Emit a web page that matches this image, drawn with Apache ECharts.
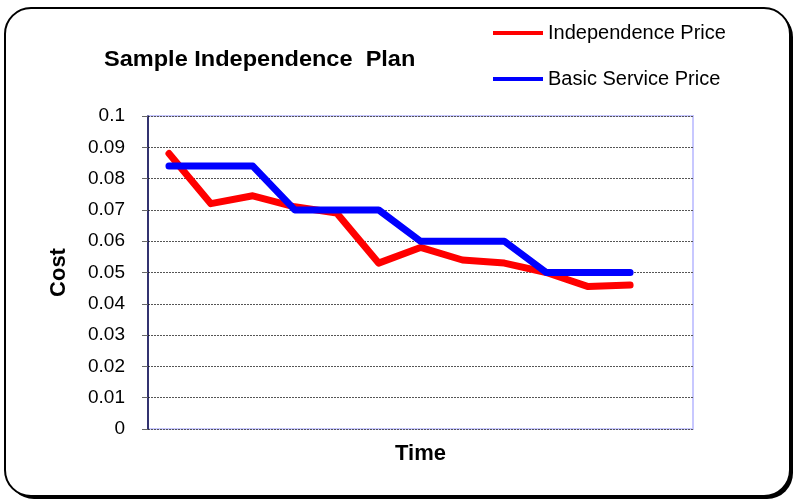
<!DOCTYPE html>
<html><head><meta charset="utf-8">
<script src="https://cdn.jsdelivr.net/npm/echarts@6/dist/echarts.min.js"></script>
<style>html,body{margin:0;padding:0;background:#fff}#c{width:796px;height:502px}</style>
</head><body><div id="c"></div>
<script>
var categories = ['1','2','3','4','5','6','7','8','9','10','11','12',''];
var independencePrice = [0.088,0.072,0.0745,0.071,0.069,0.053,0.058,0.054,0.053,0.050,0.0455,0.046];
var basicServicePrice = [0.084,0.084,0.084,0.070,0.070,0.070,0.060,0.060,0.060,0.050,0.050,0.050];
var yTickLabels = ['0','0.01','0.02','0.03','0.04','0.05','0.06','0.07','0.08','0.09','0.1'];
var F = '"Liberation Sans", Arial, sans-serif';
var chart = echarts.init(document.getElementById('c'));
chart.setOption({
  animation:false,
  textStyle:{fontFamily:F},
  graphic:[
    {type:'rect',shape:{x:8,y:11,width:785,height:488,r:26},style:{fill:'#000'},z:-11},
    {type:'rect',shape:{x:5,y:8,width:785,height:488,r:26},style:{fill:'#fff',stroke:'#000',lineWidth:2},z:-10},
    {type:'text',x:104,y:60,scaleX:1.07,style:{text:'Sample Independence  Plan',font:'bold 22px '+F,fill:'#000',textVerticalAlign:'middle',verticalAlign:'middle'}}],
  legend:{orient:'vertical',left:493,top:23,padding:0,itemWidth:50,itemHeight:4,itemGap:26,icon:'rect',
    textStyle:{fontSize:20,fontFamily:F,color:'#000'},
    data:['Independence Price','Basic Service Price']},
  grid:{left:148,right:103,top:116,bottom:73,show:true,borderColor:'#c8c8ff',borderWidth:2,backgroundColor:'#fff'},
  xAxis:{type:'category',data:categories,boundaryGap:true,name:'Time',nameLocation:'middle',nameGap:14,
    nameTextStyle:{fontSize:22,fontWeight:'bold',color:'#000',fontFamily:F},
    axisLine:{show:false},axisTick:{show:false},axisLabel:{show:false},splitLine:{show:false}},
  yAxis:{type:'value',min:0,max:0.1,interval:0.01,name:'Cost',nameLocation:'middle',nameGap:78,nameRotate:90,
    nameTextStyle:{fontSize:22,fontWeight:'bold',color:'#000',fontFamily:F},
    axisLine:{show:true,lineStyle:{color:'#000040',width:1.5}},
    axisTick:{show:true,length:6,lineStyle:{color:'#666'}},
    axisLabel:{fontSize:19,color:'#000',fontFamily:F,margin:23,formatter:function(v,i){return yTickLabels[i];}},
    splitLine:{show:true,lineStyle:{color:'#555',type:[2,1],width:1}}},
  series:[
    {name:'Independence Price',type:'line',data:independencePrice,symbol:'none',color:'#ff0000',
     lineStyle:{width:7,color:'#ff0000',cap:'round',join:'round'},z:2},
    {name:'Basic Service Price',type:'line',data:basicServicePrice,symbol:'none',color:'#0000ff',
     lineStyle:{width:7,color:'#0000ff',cap:'round',join:'round'},z:3}
  ]
});
</script></body></html>
